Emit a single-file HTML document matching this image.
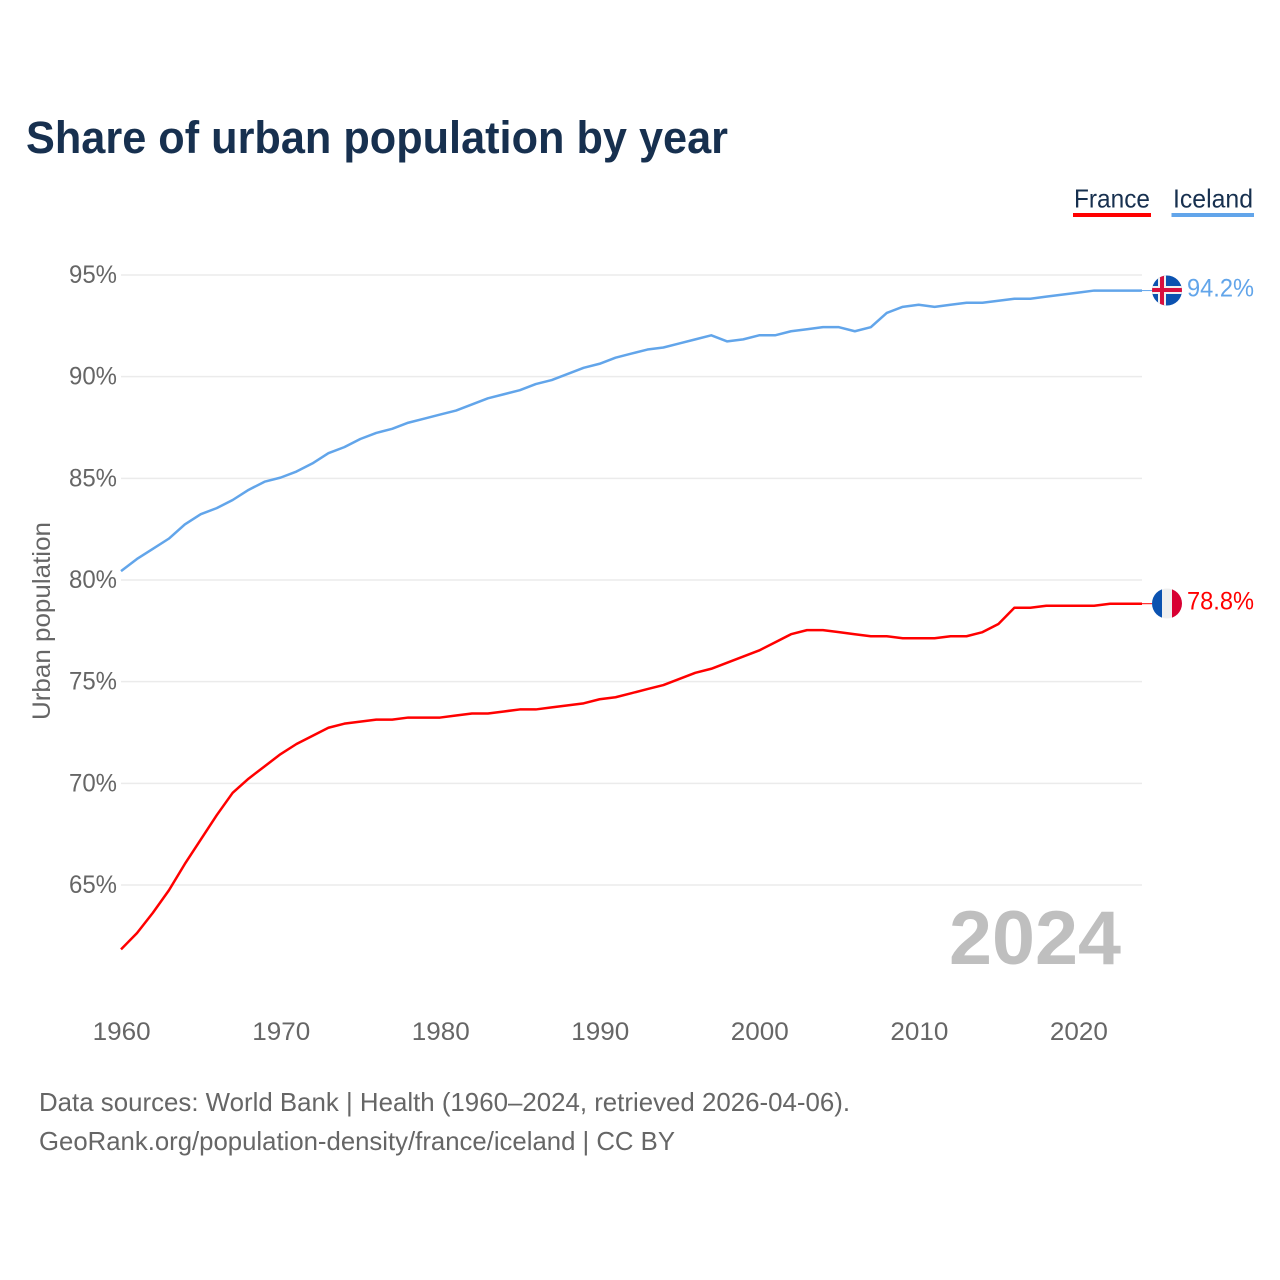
<!DOCTYPE html>
<html lang="en">
<head>
<meta charset="utf-8">
<title>Share of urban population by year</title>
<style>
html,body{margin:0;padding:0;background:#fff;width:1280px;height:1280px;overflow:hidden}
svg{display:block}
text{font-family:"Liberation Sans",sans-serif}
</style>
</head>
<body>
<svg id="chart" width="1280" height="1280" viewBox="0 0 1280 1280" xmlns="http://www.w3.org/2000/svg">
  <defs>
    <clipPath id="clip-is"><circle cx="1167" cy="290.5" r="15"/></clipPath>
    <clipPath id="clip-fr"><circle cx="1167" cy="603.5" r="15"/></clipPath>
  </defs>
  <rect width="1280" height="1280" fill="#fff"/>
  <text x="26" y="153" font-size="45" font-weight="700" fill="#17304f" textLength="702" lengthAdjust="spacingAndGlyphs">Share of urban population by year</text>

  <g>
    <g>
      <text x="1074" y="207.5" font-size="26" fill="#17304f" textLength="76" lengthAdjust="spacingAndGlyphs">France</text>
      <rect x="1073" y="213" width="78" height="4" fill="#ff0000"/>
    </g>
    <g>
      <text x="1173" y="207.5" font-size="26" fill="#17304f" textLength="80" lengthAdjust="spacingAndGlyphs">Iceland</text>
      <rect x="1171.5" y="213" width="82.5" height="4" fill="#62a5ea"/>
    </g>
  </g>

  <g id="grid"></g>
  <g id="yticks"></g>
  <g id="xticks"></g>
  <text transform="translate(50,621) rotate(-90)" text-anchor="middle" font-size="25" fill="#666" textLength="198" lengthAdjust="spacingAndGlyphs">Urban population</text>

  <text x="1121" y="964" text-anchor="end" font-size="76" font-weight="700" fill="#bfbfbf" textLength="172" lengthAdjust="spacingAndGlyphs">2024</text>

  <g id="series"></g>

  <g clip-path="url(#clip-is)">
    <rect x="1152" y="275" width="30" height="31" fill="#0b52b0"/>
    <rect x="1158" y="275" width="8" height="31" fill="#f0f0f0"/>
    <rect x="1152" y="286" width="30" height="8" fill="#f0f0f0"/>
    <rect x="1160" y="275" width="4" height="31" fill="#d8103f"/>
    <rect x="1152" y="288" width="30" height="4" fill="#d8103f"/>
  </g>
  <g clip-path="url(#clip-fr)">
    <rect x="1152" y="588" width="10" height="31" fill="#0b52b0"/>
    <rect x="1162" y="588" width="10" height="31" fill="#efefef"/>
    <rect x="1172" y="588" width="10" height="31" fill="#d80032"/>
  </g>

  <text x="1187" y="296.5" font-size="25" fill="#62a5ea" textLength="67" lengthAdjust="spacingAndGlyphs">94.2%</text>
  <text x="1187" y="609.5" font-size="25" fill="#ff0000" textLength="67" lengthAdjust="spacingAndGlyphs">78.8%</text>

  <text x="39" y="1111" font-size="26" fill="#666" textLength="811" lengthAdjust="spacingAndGlyphs">Data sources: World Bank | Health (1960–2024, retrieved 2026-04-06).</text>
  <text x="39" y="1150" font-size="26" fill="#666" textLength="636" lengthAdjust="spacingAndGlyphs">GeoRank.org/population-density/france/iceland | CC BY</text>
</svg>
<script>
var startYear = 1960;
var yTickValues = [65, 70, 75, 80, 85, 90, 95];
var xTickValues = [1960, 1970, 1980, 1990, 2000, 2010, 2020];
var franceValues = [61.8,62.6,63.6,64.7,66.0,67.2,68.4,69.5,70.2,70.8,71.4,71.9,72.3,72.7,72.9,73.0,73.1,73.1,73.2,73.2,73.2,73.3,73.4,73.4,73.5,73.6,73.6,73.7,73.8,73.9,74.1,74.2,74.4,74.6,74.8,75.1,75.4,75.6,75.9,76.2,76.5,76.9,77.3,77.5,77.5,77.4,77.3,77.2,77.2,77.1,77.1,77.1,77.2,77.2,77.4,77.8,78.6,78.6,78.7,78.7,78.7,78.7,78.8,78.8,78.8];
var icelandValues = [80.4,81.0,81.5,82.0,82.7,83.2,83.5,83.9,84.4,84.8,85.0,85.3,85.7,86.2,86.5,86.9,87.2,87.4,87.7,87.9,88.1,88.3,88.6,88.9,89.1,89.3,89.6,89.8,90.1,90.4,90.6,90.9,91.1,91.3,91.4,91.6,91.8,92.0,91.7,91.8,92.0,92.0,92.2,92.3,92.4,92.4,92.2,92.4,93.1,93.4,93.5,93.4,93.5,93.6,93.6,93.7,93.8,93.8,93.9,94.0,94.1,94.2,94.2,94.2,94.2];

var NS = 'http://www.w3.org/2000/svg';
function xScale(year) { return 121 + (year - 1960) * (1142 - 121) / 64; }
function yScale(v) { return 275 + (95 - v) * (885 - 275) / 30; }
function yMark(v) { return yScale(v) - 0.7; }

function make(tag, attrs, parent, txt) {
  var el = document.createElementNS(NS, tag);
  for (var k in attrs) el.setAttribute(k, attrs[k]);
  if (txt !== undefined) el.textContent = txt;
  parent.appendChild(el);
  return el;
}

var gridG = document.getElementById('grid');
var yG = document.getElementById('yticks');
var xG = document.getElementById('xticks');
var seriesG = document.getElementById('series');

yTickValues.forEach(function (v) {
  var line = make('line', { x1: 121, x2: 1142, y1: yScale(v), y2: yScale(v), stroke: '#ebebeb', 'stroke-width': 1.5 }, gridG);
  
  
  var label = make('text', { x: 117, y: yScale(v) + 8, 'text-anchor': 'end', 'font-size': 25, fill: '#666', textLength: 48, lengthAdjust: 'spacingAndGlyphs' }, yG, v + '%');
  
  
});

xTickValues.forEach(function (y) {
  var label = make('text', { x: xScale(y) + 0.7, y: 1040, 'text-anchor': 'middle', 'font-size': 25, fill: '#666', textLength: 58, lengthAdjust: 'spacingAndGlyphs' }, xG, String(y));
  
  
});

function pathFor(values) {
  return values.map(function (v, i) {
    return (i ? 'L' : 'M') + xScale(startYear + i).toFixed(2) + ' ' + yMark(v).toFixed(2);
  }).join('');
}

var franceLine = make('path', { d: pathFor(franceValues), fill: 'none', stroke: '#ff0000', 'stroke-width': 2.5, 'stroke-linejoin': 'round' }, seriesG);



var icelandLine = make('path', { d: pathFor(icelandValues), fill: 'none', stroke: '#62a5ea', 'stroke-width': 2.5, 'stroke-linejoin': 'round' }, seriesG);



var franceLast = franceValues[franceValues.length - 1];
var icelandLast = icelandValues[icelandValues.length - 1];

var franceLeader = make('line', { x1: 1142, x2: 1152, y1: yMark(franceLast), y2: yMark(franceLast), stroke: '#ff0000', 'stroke-width': 1 }, seriesG);



var icelandLeader = make('line', { x1: 1142, x2: 1152, y1: yMark(icelandLast), y2: yMark(icelandLast), stroke: '#62a5ea', 'stroke-width': 1 }, seriesG);


</script>
</body>
</html>
